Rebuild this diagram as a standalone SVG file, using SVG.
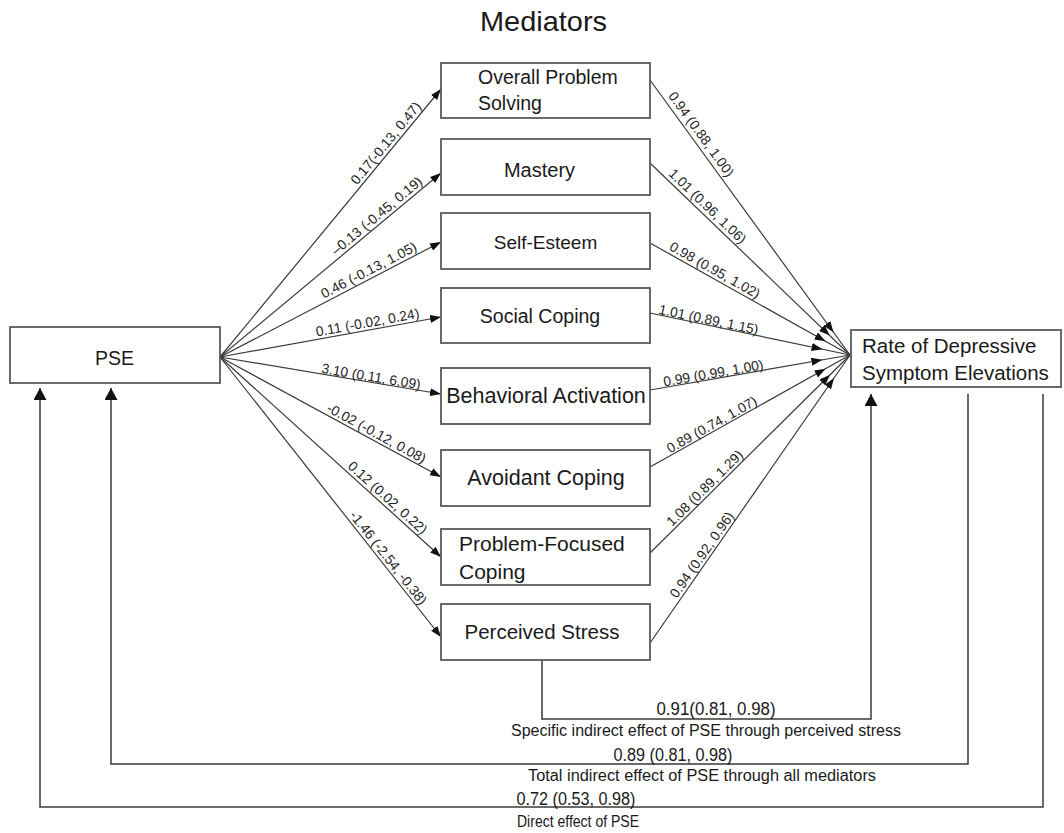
<svg xmlns="http://www.w3.org/2000/svg" width="1064" height="833" viewBox="0 0 1064 833">
<style>
.box{fill:#fff;stroke:#5a5a5a;stroke-width:1.8}
.nt{font-family:"Liberation Sans",Arial,sans-serif;fill:#1a1a1a}
.lbl{font-family:"Liberation Sans",Arial,sans-serif;font-size:13.8px;fill:#1e1e1e;text-anchor:middle}
.edge{stroke:#3a3a3a;stroke-width:1.2;fill:none}
.loop{stroke:#3a3a3a;stroke-width:1.5;fill:none}
.bt{font-family:"Liberation Sans",Arial,sans-serif;fill:#1a1a1a;text-anchor:middle}
</style>
<defs>
<marker id="ahL" markerUnits="userSpaceOnUse" viewBox="0 0 11 8" markerWidth="11" markerHeight="8" refX="11" refY="4" orient="auto"><path d="M0,0 L11,4 L0,8 z" fill="#111"/></marker>
<marker id="ahR" markerUnits="userSpaceOnUse" viewBox="0 0 40 8" markerWidth="40" markerHeight="8" refX="39" refY="4" orient="auto"><path d="M0,0 L11,4 L0,8 z" fill="#111"/></marker>
<marker id="ahB" markerUnits="userSpaceOnUse" viewBox="0 0 12 13" markerWidth="12" markerHeight="13" refX="12" refY="6.5" orient="auto"><path d="M0,0 L12,6.5 L0,13 z" fill="#111"/></marker>
</defs>
<rect width="1064" height="833" fill="#fff"/>
<text class="nt" x="543.5" y="31" font-size="28" text-anchor="middle" textLength="127" lengthAdjust="spacingAndGlyphs">Mediators</text>

<g id="connectors">
<line class="edge" x1="220" y1="357" x2="441" y2="89" marker-end="url(#ahL)"/>
<line class="edge" x1="220" y1="357" x2="441" y2="173" marker-end="url(#ahL)"/>
<line class="edge" x1="220" y1="357" x2="441" y2="242" marker-end="url(#ahL)"/>
<line class="edge" x1="220" y1="357" x2="441" y2="317" marker-end="url(#ahL)"/>
<line class="edge" x1="220" y1="357" x2="441" y2="394" marker-end="url(#ahL)"/>
<line class="edge" x1="220" y1="357" x2="441" y2="477" marker-end="url(#ahL)"/>
<line class="edge" x1="220" y1="357" x2="441" y2="557" marker-end="url(#ahL)"/>
<line class="edge" x1="220" y1="357" x2="441" y2="637" marker-end="url(#ahL)"/>
<line class="edge" x1="650" y1="80" x2="850" y2="355" marker-end="url(#ahR)"/>
<line class="edge" x1="650" y1="163" x2="850" y2="355" marker-end="url(#ahR)"/>
<line class="edge" x1="650" y1="243" x2="850" y2="355" marker-end="url(#ahR)"/>
<line class="edge" x1="650" y1="313" x2="850" y2="355" marker-end="url(#ahR)"/>
<line class="edge" x1="650" y1="390" x2="850" y2="355" marker-end="url(#ahR)"/>
<line class="edge" x1="650" y1="467" x2="850" y2="355" marker-end="url(#ahR)"/>
<line class="edge" x1="650" y1="553" x2="850" y2="355" marker-end="url(#ahR)"/>
<line class="edge" x1="650" y1="643" x2="850" y2="355" marker-end="url(#ahR)"/>
<polyline class="loop" points="542,660 542,719 871,719 871,394" marker-end="url(#ahB)"/>
<polyline class="loop" points="968,394 968,764 111,764 111,388" marker-end="url(#ahB)"/>
<polyline class="loop" points="1043,394 1043,807 40,807 40,388" marker-end="url(#ahB)"/>

<text class="lbl" transform="translate(392.1,148.4) rotate(-50.5)" y="-3.5">0.17(-0.13, 0.47)</text>
<text class="lbl" transform="translate(382,222) rotate(-39.8)" y="-3.5">–0.13 (-0.45, 0.19)</text>
<text class="lbl" transform="translate(372.6,277.5) rotate(-27.5)" y="-3.5">0.46 (-0.13, 1.05)</text>
<text class="lbl" transform="translate(368.9,330.1) rotate(-10.3)" y="-3">0.11 (-0.02, 0.24)</text>
<text class="lbl" transform="translate(370.2,382.1) rotate(9.5)" y="-1">3.10 (0.11, 6.09)</text>
<text class="lbl" transform="translate(372.9,440) rotate(28.5)" y="-3">-0.02 (-0.12, 0.08)</text>
<text class="lbl" transform="translate(382.3,503.8) rotate(42.1)" y="-3.5">0.12 (0.02, 0.22)</text>
<text class="lbl" transform="translate(382.3,562.6) rotate(51.7)" y="-3">-1.46 (-2.54, -0.38)</text>
<text class="lbl" transform="translate(693.5,139.9) rotate(54)" y="-5">0.94 (0.88, 1.00)</text>
<text class="lbl" transform="translate(701.6,212.5) rotate(43.8)" y="-4">1.01 (0.96, 1.06)</text>
<text class="lbl" transform="translate(711,277.2) rotate(29.25)" y="-3.5">0.98 (0.95, 1.02)</text>
<text class="lbl" transform="translate(707.4,325.1) rotate(11.9)" y="-1">1.01 (0.89, 1.15)</text>
<text class="lbl" transform="translate(714.4,378.8) rotate(-9.9)" y="-1">0.99 (0.99, 1.00)</text>
<text class="lbl" transform="translate(715.1,430.5) rotate(-29.25)" y="-2">0.89 (0.74, 1.07)</text>
<text class="lbl" transform="translate(710.1,493.5) rotate(-44.7)" y="-3">1.08 (0.89, 1.29)</text>
<text class="lbl" transform="translate(708.2,559.2) rotate(-55.2)" y="-3">0.94 (0.92, 0.96)</text>

<text class="bt" x="716" y="715" font-size="18" textLength="119" lengthAdjust="spacingAndGlyphs">0.91(0.81, 0.98)</text>
<text class="bt" x="706" y="735.5" font-size="16" textLength="390" lengthAdjust="spacingAndGlyphs">Specific indirect effect of PSE through perceived stress</text>
<text class="bt" x="673" y="760.5" font-size="18" textLength="119" lengthAdjust="spacingAndGlyphs">0.89 (0.81, 0.98)</text>
<text class="bt" x="702" y="780.5" font-size="16" textLength="348" lengthAdjust="spacingAndGlyphs">Total indirect effect of PSE through all mediators</text>
<text class="bt" x="576" y="805" font-size="18" textLength="119" lengthAdjust="spacingAndGlyphs">0.72 (0.53, 0.98)</text>
<text class="bt" x="578" y="827" font-size="16" textLength="122" lengthAdjust="spacingAndGlyphs">Direct effect of PSE</text>
</g>

<g id="pse"><rect class="box" x="10" y="327" width="210" height="56"/><text class="nt" x="114.5" y="365" font-size="19.5" text-anchor="middle">PSE</text></g>
<g id="rate"><rect class="box" x="851" y="330" width="210" height="57"/><text class="nt" x="862" y="353" font-size="20.5">Rate of Depressive</text><text class="nt" x="862" y="380" font-size="20.5">Symptom Elevations</text></g>
<g id="overall"><rect class="box" x="441" y="63" width="209" height="55"/><text class="nt" x="478" y="84" font-size="19.5">Overall Problem</text><text class="nt" x="478" y="110" font-size="19.5">Solving</text></g>
<g id="mastery"><rect class="box" x="441" y="139" width="209" height="56"/><text class="nt" x="539.5" y="177" font-size="20" text-anchor="middle">Mastery</text></g>
<g id="selfesteem"><rect class="box" x="441" y="213" width="209" height="56"/><text class="nt" x="545.5" y="249" font-size="19" text-anchor="middle">Self-Esteem</text></g>
<g id="social"><rect class="box" x="441" y="288" width="209" height="55"/><text class="nt" x="540" y="323" font-size="19.5" text-anchor="middle">Social Coping</text></g>
<g id="behavioral"><rect class="box" x="441" y="368" width="209" height="56"/><text class="nt" x="546" y="403" font-size="21.5" text-anchor="middle">Behavioral Activation</text></g>
<g id="avoidant"><rect class="box" x="441" y="450" width="209" height="56"/><text class="nt" x="546" y="485" font-size="21.5" text-anchor="middle">Avoidant Coping</text></g>
<g id="problemfocused"><rect class="box" x="441" y="529" width="209" height="56"/><text class="nt" x="459" y="551" font-size="21">Problem-Focused</text><text class="nt" x="459" y="579" font-size="21">Coping</text></g>
<g id="perceived"><rect class="box" x="441" y="604" width="209" height="56"/><text class="nt" x="542" y="639" font-size="20.5" text-anchor="middle">Perceived Stress</text></g>
</svg>
